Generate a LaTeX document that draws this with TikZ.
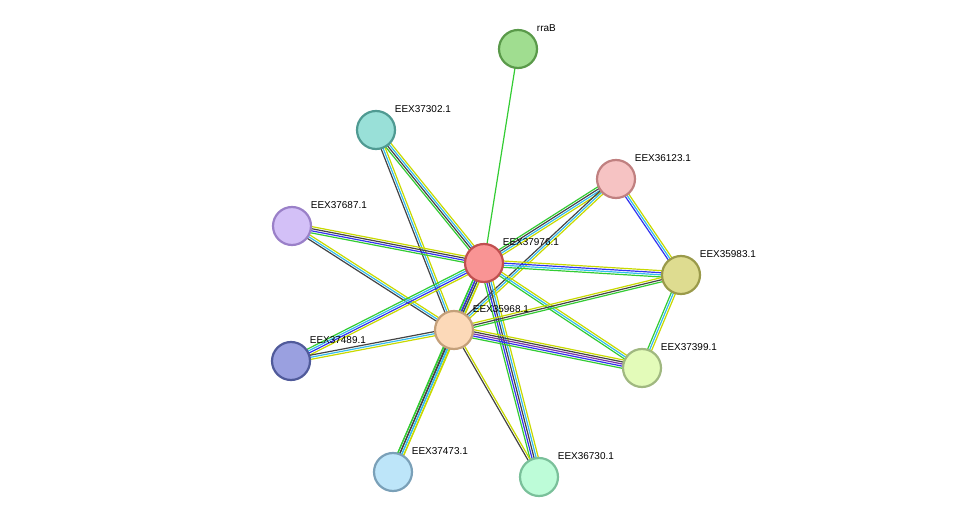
\documentclass[tikz,border=0pt]{standalone}
\usepackage{fontspec}
\setmainfont{Liberation Sans}
\usetikzlibrary{calc,backgrounds}
\definecolor{tmgreen}{HTML}{33CC33}
\definecolor{dbblue}{HTML}{3333EE}
\definecolor{coexp}{HTML}{444444}
\definecolor{tmcyan}{HTML}{33BBEE}
\definecolor{txyellow}{HTML}{C8D900}
\definecolor{hmpurple}{HTML}{7733AA}
\newcommand{\stredge}[3]{%
  \foreach \c [count=\i] in {#3} {\xdef\nlines{\i}}
  \foreach \c [count=\i] in {#3} {
    \pgfmathsetmacro{\off}{(\i-(\nlines+1)/2)*2.1}
    \draw[\c] ($(#1)!\off bp!90:(#2)$) -- ($(#2)!\off bp!-90:(#1)$);
  }}
\begin{document}
\begin{tikzpicture}[x=1bp,y=-1bp,
    every path/.style={line width=1.2bp},
    prot/.style={circle, minimum size=38bp, inner sep=0pt, line width=2.2bp},
    lbl/.style={font=\fontsize{10}{11}\selectfont, inner sep=0pt, anchor=south west, label distance=3bp, xshift=2bp}
  ]
  \useasboundingbox (0,0) rectangle (976,523);

  % Nodes
  \node[prot, fill={rgb,255:red,160;green,221;blue,144}, draw={rgb,255:red,90;green,154;blue,74},
    label={[lbl]45:rraB}] (rraB) at (518,49) {};
  \node[prot, fill={rgb,255:red,153;green,224;blue,216}, draw={rgb,255:red,79;green,154;blue,146},
    label={[lbl]45:EEX37302.1}] (p37302) at (376,130) {};
  \node[prot, fill={rgb,255:red,246;green,195;blue,195}, draw={rgb,255:red,192;green,128;blue,128},
    label={[lbl]45:EEX36123.1}] (p36123) at (616,179) {};
  \node[prot, fill={rgb,255:red,211;green,192;blue,247}, draw={rgb,255:red,154;green,128;blue,200},
    label={[lbl]45:EEX37687.1}] (p37687) at (292,226) {};
  \node[prot, fill={rgb,255:red,249;green,148;blue,148}, draw={rgb,255:red,192;green,79;blue,79},
    label={[lbl]45:EEX37976.1}] (p37976) at (484,263) {};
  \node[prot, fill={rgb,255:red,222;green,220;blue,144}, draw={rgb,255:red,154;green,154;blue,74},
    label={[lbl]45:EEX35983.1}] (p35983) at (681,275) {};
  \node[prot, fill={rgb,255:red,252;green,217;blue,184}, draw={rgb,255:red,196;green,160;blue,122},
    label={[lbl]45:EEX35968.1}] (p35968) at (454,330) {};
  \node[prot, fill={rgb,255:red,154;green,160;blue,224}, draw={rgb,255:red,80;green,90;blue,154},
    label={[lbl]45:EEX37489.1}] (p37489) at (291,361) {};
  \node[prot, fill={rgb,255:red,227;green,251;blue,185}, draw={rgb,255:red,160;green,184;blue,128},
    label={[lbl]45:EEX37399.1}] (p37399) at (642,368) {};
  \node[prot, fill={rgb,255:red,189;green,229;blue,249}, draw={rgb,255:red,122;green,160;blue,184},
    label={[lbl]45:EEX37473.1}] (p37473) at (393,472) {};
  \node[prot, fill={rgb,255:red,189;green,252;blue,216}, draw={rgb,255:red,122;green,192;blue,154},
    label={[lbl]45:EEX36730.1}] (p36730) at (539,477) {};

  % Edges
  \begin{pgfonlayer}{background}
  \stredge{rraB}{p37976}{tmgreen}
  \stredge{p37302}{p37976}{tmgreen,coexp,tmcyan,txyellow}
  \stredge{p37302}{p35968}{coexp,tmcyan,txyellow}
  \stredge{p36123}{p37976}{tmgreen,coexp,tmcyan,txyellow}
  \stredge{p36123}{p35968}{coexp,tmcyan,txyellow}
  \stredge{p36123}{p35983}{dbblue,tmcyan,txyellow}
  \stredge{p37687}{p37976}{tmgreen,dbblue,coexp,txyellow}
  \stredge{p37687}{p35968}{coexp,tmcyan,txyellow}
  \stredge{p37976}{p35983}{tmgreen,tmcyan,dbblue,txyellow}
  \stredge{p37976}{p37489}{tmgreen,tmcyan,dbblue,txyellow}
  \stredge{p37976}{p37399}{tmgreen,tmcyan,txyellow}
  \stredge{p37976}{p37473}{tmgreen,coexp,tmcyan,txyellow}
  \stredge{p37976}{p36730}{tmgreen,dbblue,coexp,tmcyan,txyellow}
  \stredge{p37976}{p35968}{tmgreen,dbblue,coexp,txyellow}
  \stredge{p35968}{p35983}{tmgreen,coexp,txyellow}
  \stredge{p35968}{p37489}{coexp,tmcyan,txyellow}
  \stredge{p35968}{p37399}{tmgreen,dbblue,hmpurple,coexp,txyellow}
  \stredge{p35968}{p37473}{tmgreen,coexp,tmcyan,txyellow}
  \stredge{p35968}{p36730}{coexp,txyellow}
  \stredge{p35983}{p37399}{tmgreen,tmcyan,txyellow}
  \end{pgfonlayer}
\end{tikzpicture}
\end{document}
